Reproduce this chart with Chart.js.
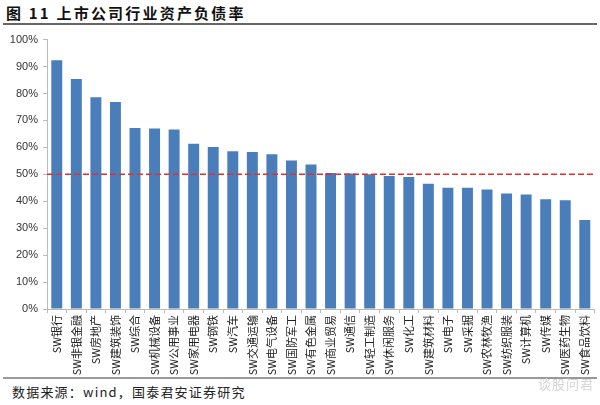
<!DOCTYPE html>
<html>
<head>
<meta charset="utf-8">
<script src="https://cdn.jsdelivr.net/npm/chart.js@4.4.1/dist/chart.umd.min.js"></script>
<style>
  body { margin: 0; background: #fff; width: 600px; height: 405px; overflow: hidden; position: relative; font-family: "Noto Sans CJK SC", sans-serif; }
  #title { position: absolute; left: 6px; top: 2px; font-size: 15px; font-weight: bold; letter-spacing: 2.2px; color: #111; }
  #rule1 { position: absolute; left: 3px; right: 3px; top: 23px; height: 2px; background: #666; }
  #wrap { position: absolute; left: 0; top: 28px; width: 600px; height: 348px; }
  #rule2 { position: absolute; left: 3px; right: 3px; top: 377px; height: 2px; background: #999; }
  #source { position: absolute; left: 12px; top: 382px; font-size: 13px; letter-spacing: 1.2px; color: #222; }
  #mark { position: absolute; right: 6px; top: 374px; font-size: 13px; color: #d4d4d4; letter-spacing: 1px; }
</style>
</head>
<body>
<div id="title">图 11 上市公司行业资产负债率</div>
<div id="rule1"></div>
<div id="wrap"><canvas id="debtChart"></canvas></div>
<div id="rule2"></div>
<div id="source">数据来源：wind，国泰君安证券研究</div>
<div id="mark">谈股问君</div>
<script>
// industries, sorted by asset-liability ratio (%)
const industries = ['SW银行', 'SW非银金融', 'SW房地产', 'SW建筑装饰', 'SW综合', 'SW机械设备', 'SW公用事业',
  'SW家用电器', 'SW钢铁', 'SW汽车', 'SW交通运输', 'SW电气设备', 'SW国防军工', 'SW有色金属', 'SW商业贸易',
  'SW通信', 'SW轻工制造', 'SW休闲服务', 'SW化工', 'SW建筑材料', 'SW电子', 'SW采掘', 'SW农林牧渔',
  'SW纺织服装', 'SW计算机', 'SW传媒', 'SW医药生物', 'SW食品饮料'];
const debtRatio = [92.3, 85.4, 78.6, 76.8, 67.2, 67.0, 66.6, 61.3, 60.1, 58.6, 58.3, 57.4, 55.1, 53.6, 50.5,
  50.3, 50.0, 49.4, 49.0, 46.5, 45.0, 45.0, 44.4, 42.9, 42.5, 40.7, 40.4, 33.0];
const refLine = 50;
const yTicks = [0, 10, 20, 30, 40, 50, 60, 70, 80, 90, 100];

// red dashed reference line across the plot
const refLinePlugin = {
  id: 'refLine',
  afterDatasetsDraw(chart) {
    const { ctx, chartArea, scales } = chart;
    const y = scales.y.getPixelForValue(refLine);
    ctx.save();
    ctx.strokeStyle = '#e0302a';
    ctx.lineWidth = 1.5;
    ctx.setLineDash([6, 3]);
    ctx.beginPath();
    ctx.moveTo(chartArea.left, y);
    ctx.lineTo(chartArea.right, y);
    ctx.stroke();
    ctx.restore();
  }
};

const ctx = document.getElementById('debtChart').getContext('2d');
new Chart(ctx, {
  type: 'bar',
  data: {
    labels: industries,
    datasets: [{
      data: debtRatio,
      backgroundColor: '#4a7ebb',
      barPercentage: 0.56,
      categoryPercentage: 1
    }]
  },
  options: {
    responsive: true,
    maintainAspectRatio: false,
    animation: false,
    layout: { padding: { top: 9, right: 0, left: 0, bottom: 0 } },
    plugins: { legend: { display: false }, tooltip: { enabled: false } },
    scales: {
      x: {
        afterFit(scale) { scale.height = 67; },
        border: { color: '#bbb' },
        grid: { display: true, drawOnChartArea: false, tickLength: 4, color: '#bbb', offset: true },
        ticks: {
          autoSkip: false, maxRotation: 90, minRotation: 90, padding: 2,
          color: '#222', font: { family: 'Noto Sans CJK SC', size: 11 }
        }
      },
      y: {
        min: 0, max: 100,
        afterFit(scale) { scale.width = 47; },
        afterBuildTicks(scale) { scale.ticks = yTicks.map(v => ({ value: v })); },
        border: { color: '#bbb' },
        grid: { drawOnChartArea: false, tickLength: 4, color: '#bbb' },
        ticks: {
          padding: 5, color: '#333',
          font: { family: 'Liberation Sans', size: 11 },
          callback: v => v + '%'
        }
      }
    }
  },
  plugins: [refLinePlugin]
});
</script>
</body>
</html>
